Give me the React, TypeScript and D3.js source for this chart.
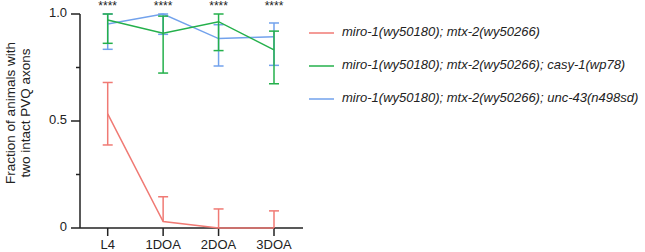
import React from "react";
import * as d3 from "d3";

const categories = ["L4", "1DOA", "2DOA", "3DOA"];
const yTickValues = [0, 0.5, 1.0];
const yTickLabels = ["0", "0.5", "1.0"];
const minorTicks = [0.25, 0.75];
const seriesNames = [
  "miro-1(wy50180); mtx-2(wy50266)",
  "miro-1(wy50180); mtx-2(wy50266); casy-1(wp78)",
  "miro-1(wy50180); mtx-2(wy50266); unc-43(n498sd)",
];
const seriesColors = ["#f07a74", "#24b04b", "#72a2ec"];
const redMean = [0.533, 0.03, 0.0, 0.0];
const redLow = [0.388, 0.03, 0.0, 0.0];
const redHigh = [0.68, 0.146, 0.089, 0.08];
const greenMean = [0.972, 0.91, 0.964, 0.832];
const greenLow = [0.863, 0.724, 0.829, 0.674];
const greenHigh = [1.0, 0.99, 1.0, 0.92];
const blueMean = [0.953, 1.0, 0.885, 0.894];
const blueLow = [0.835, 0.905, 0.757, 0.76];
const blueHigh = [1.0, 1.0, 0.95, 0.958];
const sigLabels = ["****", "****", "****", "****"];

const series = [
  { mean: redMean, low: redLow, high: redHigh },
  { mean: greenMean, low: greenLow, high: greenHigh },
  { mean: blueMean, low: blueLow, high: blueHigh },
];

export default function App() {
  const font = "'Liberation Sans', Arial, sans-serif";
  const x = d3.scalePoint<string>().domain(categories).range([107.7, 274]);
  const y = d3.scaleLinear().domain([0, 1]).range([228, 14]);
  const line = d3
    .line<number>()
    .x((_, i) => x(categories[i]) as number)
    .y((d) => y(d));
  const capW = 5;
  const drawOrder = [2, 1, 0];
  return (
    <svg
      width={645}
      height={252}
      style={{ position: "absolute", left: 0, top: 0, fontFamily: font }}
    >
      {/* y axis */}
      <line x1={80} x2={80} y1={y(1)} y2={y(0)} stroke="#222" strokeWidth={1.5} />
      {yTickValues.map((v, i) => (
        <g key={"yt" + i}>
          <line x1={71} x2={80} y1={y(v)} y2={y(v)} stroke="#222" strokeWidth={1.5} />
          <text x={67} y={y(v)} textAnchor="end" dominantBaseline="middle" fontSize={13} fill="#222">
            {yTickLabels[i]}
          </text>
        </g>
      ))}
      {minorTicks.map((v, i) => (
        <line key={"mt" + i} x1={76} x2={80} y1={y(v)} y2={y(v)} stroke="#222" strokeWidth={1.5} />
      ))}
      {/* x axis */}
      <line x1={80} x2={303} y1={y(0)} y2={y(0)} stroke="#222" strokeWidth={1.5} />
      {categories.map((c) => (
        <g key={"xt" + c}>
          <line x1={x(c)} x2={x(c)} y1={y(0)} y2={y(0) + 8} stroke="#222" strokeWidth={1.5} />
          <text x={x(c)} y={249} textAnchor="middle" fontSize={13} fill="#222">
            {c}
          </text>
        </g>
      ))}
      {/* y label */}
      <text
        transform={`translate(15,113) rotate(-90)`}
        textAnchor="middle"
        fontSize={13.5}
        fill="#222"
      >
        <tspan x={0} dy={0}>Fraction of animals with</tspan>
        <tspan x={0} dy={14.5}>two intact PVQ axons</tspan>
      </text>
      {/* series */}
      {drawOrder.map((si) => {
        const s = series[si];
        const col = seriesColors[si];
        return (
          <g key={"s" + si}>
            {categories.map((c, i) => {
              const cx = x(c) as number;
              return (
                <g key={c}>
                  <line x1={cx} x2={cx} y1={y(s.low[i])} y2={y(s.high[i])} stroke={col} strokeWidth={1.5} />
                  <line x1={cx - capW} x2={cx + capW} y1={y(s.high[i])} y2={y(s.high[i])} stroke={col} strokeWidth={1.5} />
                  {s.low[i] < s.mean[i] && (
                    <line x1={cx - capW} x2={cx + capW} y1={y(s.low[i])} y2={y(s.low[i])} stroke={col} strokeWidth={1.5} />
                  )}
                </g>
              );
            })}
            <path d={line(s.mean) || ""} fill="none" stroke={col} strokeWidth={1.5} />
          </g>
        );
      })}
      {/* significance */}
      {categories.map((c, i) => (
        <text key={"sig" + c} x={x(c)} y={10} textAnchor="middle" fontSize={12} fill="#222">
          {sigLabels[i]}
        </text>
      ))}
      {/* legend */}
      {seriesNames.map((n, i) => {
        const ly = 33 + i * 33;
        return (
          <g key={"lg" + i}>
            <line x1={309} x2={334} y1={ly} y2={ly} stroke={seriesColors[i]} strokeWidth={1.5} />
            <text x={342} y={ly} dominantBaseline="middle" fontSize={13} fontStyle="italic" fill="#222">
              {n}
            </text>
          </g>
        );
      })}
    </svg>
  );
}
